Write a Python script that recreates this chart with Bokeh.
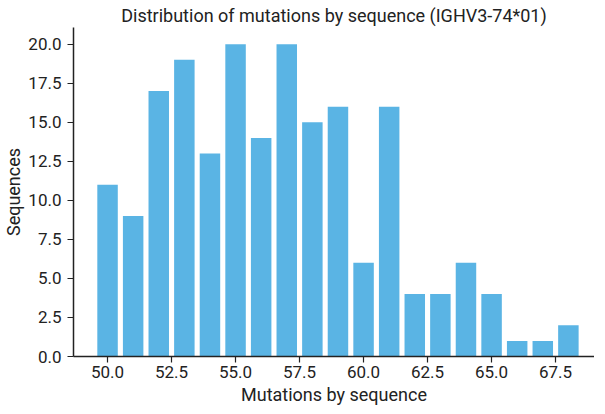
from bokeh.plotting import figure
from bokeh.models import FixedTicker, PrintfTickFormatter, Range1d, ColumnDataSource
from bokeh.embed import file_html
from bokeh.resources import INLINE

mutations = [50, 51, 52, 53, 54, 55, 56, 57, 58, 59, 60, 61, 62, 63, 64, 65, 66, 67, 68]
sequences = [11, 9, 17, 19, 13, 20, 14, 20, 15, 16, 6, 16, 4, 4, 6, 4, 1, 1, 2]
x_ticks = [50.0, 52.5, 55.0, 57.5, 60.0, 62.5, 65.0, 67.5]
y_ticks = [0.0, 2.5, 5.0, 7.5, 10.0, 12.5, 15.0, 17.5, 20.0]

src = ColumnDataSource(dict(x=mutations, top=sequences))

FONT = "Roboto"
INK = "#222222"

p = figure(frame_width=521, frame_height=329, output_backend="svg", toolbar_location=None,
           x_range=Range1d(48.67, 69.02), y_range=Range1d(0, 21.07),
           min_border_left=68, min_border_top=25, min_border_right=0, min_border_bottom=47)

p.vbar(x="x", top="top", width=0.8, bottom=0, source=src, color="#5ab4e4", line_color=None)

p.title.text = "Distribution of mutations by sequence (IGHV3-74*01)"
p.title.align = "center"
p.title.text_font = FONT
p.title.text_font_size = "18px"
p.title.text_font_style = "normal"
p.title.text_color = INK
p.title.offset = 0
p.title.standoff = 4
p.title.text_line_height = 1.0

p.outline_line_color = None
p.xgrid.grid_line_color = None
p.ygrid.grid_line_color = None

for ax in (p.xaxis[0], p.yaxis[0]):
    ax.axis_line_color = INK
    ax.axis_line_width = 1.5
    ax.major_tick_line_color = INK
    ax.major_tick_line_width = 1.2
    ax.major_tick_out = 6
    ax.major_tick_in = 0
    ax.minor_tick_line_color = None
    ax.major_label_text_font = FONT
    ax.major_label_text_font_size = "17px"
    ax.major_label_text_color = INK
    ax.axis_label_text_font = FONT
    ax.axis_label_text_font_size = "18px"
    ax.axis_label_text_font_style = "normal"
    ax.axis_label_text_color = INK
    ax.formatter = PrintfTickFormatter(format="%.1f")

p.xaxis.ticker = FixedTicker(ticks=x_ticks)
p.yaxis.ticker = FixedTicker(ticks=y_ticks)
p.xaxis.axis_label = "Mutations by sequence"
p.yaxis.axis_label = "Sequences"
p.xaxis.major_label_standoff = 3
p.yaxis.major_label_standoff = 6
p.xaxis.axis_label_standoff = 3
p.yaxis.axis_label_standoff = 1

open("out.html", "w").write(file_html(p, INLINE))
